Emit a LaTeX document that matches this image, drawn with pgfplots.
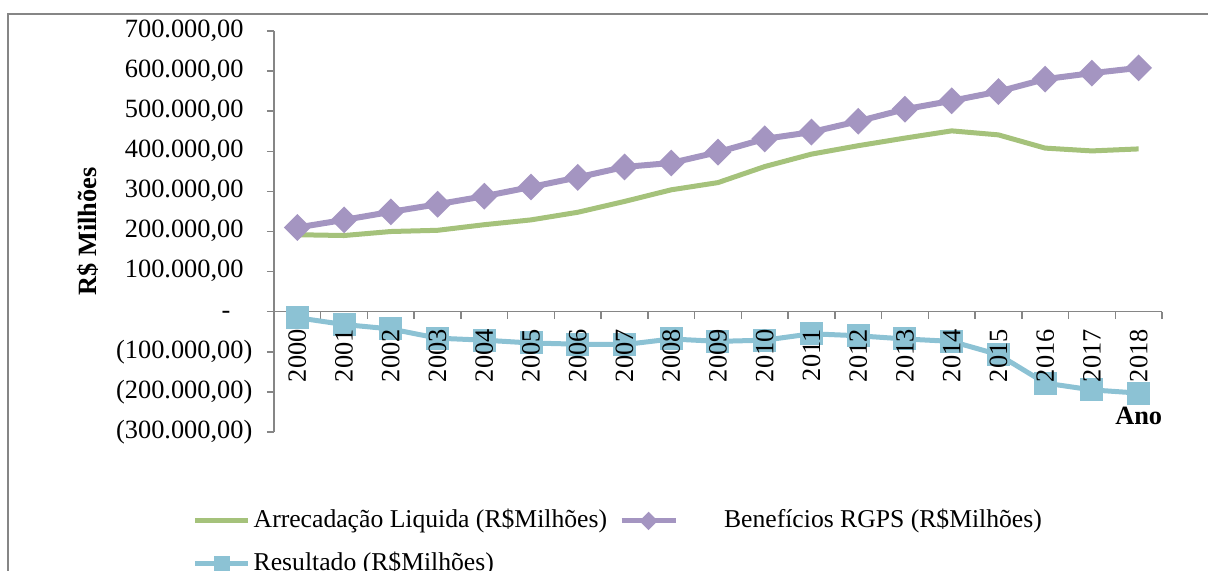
\documentclass[border=0pt]{standalone}
\usepackage{pgfplots}
\pgfplotsset{compat=1.18}
\usepackage{fontspec}
\setmainfont{Liberation Serif}
\definecolor{cg}{HTML}{A5C27B}
\definecolor{cp}{HTML}{A495C1}
\definecolor{cb}{HTML}{8CC2D4}
\definecolor{axgray}{HTML}{868686}
\newcommand{\fs}{\fontsize{7.5}{9}\selectfont}
\newcommand{\fl}{\fontsize{7.3}{9}\selectfont}
\pgfplotsset{
  legG/.style={legend image code/.code={\draw[##1] (0mm,0mm) -- (5.3mm,0mm);}},
  legP/.style={legend image code/.code={\draw[mark repeat=2, mark phase=2, ##1, mark size=0.4mm, line width=0.5mm] plot coordinates {(0mm,0mm) (2.7mm,0mm) (5.4mm,0mm)};}},
  legB/.style={legend image code/.code={\draw[mark repeat=2, mark phase=2, ##1, mark size=0.55mm] plot coordinates {(0mm,0mm) (2.65mm,0mm) (5.3mm,0mm)};}},
}
\begin{document}
\begin{tikzpicture}
\useasboundingbox (-27.4mm,-13.9mm) rectangle (93.4mm,43.2mm);
\clip (-27.4mm,-13.9mm) rectangle (93.4mm,43.2mm);
\draw[color=axgray, line width=0.2mm] (-26.6mm,-30mm) -- (-26.6mm,41.8mm) -- (110mm,41.8mm);
\begin{axis}[
  scale only axis, width=88.8mm, height=40.1mm,
  xmin=-0.5, xmax=18.5, ymin=-300000, ymax=700000,
  axis x line*=middle, axis y line*=left,
  hide obscured x ticks=false,
  scaled y ticks=false,
  axis line style={draw=axgray, line width=0.15mm},
  tick style={draw=axgray, line width=0.15mm},
  major tick length=0.7mm, tick align=outside,
  xtick={-0.5,0.5,...,18.5}, xticklabels={},
  ytick={-300000,-200000,-100000,0,100000,200000,300000,400000,500000,600000,700000},
  yticklabels={{(300.000,00)},{(200.000,00)},{(100.000,00)},{-\hspace{1.3mm}\phantom{)}},{100.000,00\phantom{)}},{200.000,00\phantom{)}},{300.000,00\phantom{)}},{400.000,00\phantom{)}},{500.000,00\phantom{)}},{600.000,00\phantom{)}},{700.000,00\phantom{)}}},
  tick label style={font=\fs},
  yticklabel style={anchor=east, inner sep=0pt, xshift=-1.4mm},
  xlabel={\textbf{Ano}}, ylabel={\textbf{R\$ Milhões}},
  every axis x label/.style={at={(axis description cs:1.001,0.04)}, anchor=east, inner sep=0pt, font=\fs},
  every axis y label/.style={at={(axis description cs:-0.2095,0.5)}, anchor=center, rotate=90, font=\fs},
  legend columns=2,
  legend cell align=left,
  legend style={draw=none, fill=none, inner sep=0pt, font=\fl,
    at={(axis description cs:-0.0923,-0.19)}, anchor=north west,
    nodes={inner sep=0pt, text height=1.85mm, text depth=0.55mm},
    row sep=1.9mm,
    /tikz/every odd column/.style={column sep=0.3mm},
    /tikz/every even column/.style={column sep=1.2mm}},
  clip=false,
  after end axis/.code={
    \foreach \i/\yr in {0/2000,1/2001,2/2002,3/2003,4/2004,5/2005,6/2006,7/2007,8/2008,9/2009,10/2010,11/2011,12/2012,13/2013,14/2014,15/2015,16/2016,17/2017,18/2018}
      \node[font=\fs, inner sep=0pt, yshift=-1.7mm, rotate=90, anchor=east] at (axis cs:\i,0) {\yr};
  },
]
\addplot[color=cg, line width=0.5mm, no markers, legG]
  coordinates {(0,192000)(1,190000)(2,200000)(3,203000)(4,217000)(5,229000)(6,248000)(7,275000)(8,304000)(9,322000)(10,362000)(11,393000)(12,414000)(13,433000)(14,451000)(15,441000)(16,408000)(17,401000)(18,406000)};
\addlegendentry{Arrecadação Liquida (R\$Milhões)}
\addplot[color=cp, line width=0.6mm, mark=square*, mark size=0.65mm, mark options={rotate=45, solid}, legP]
  coordinates {(0,210000)(1,229000)(2,249000)(3,268000)(4,288000)(5,311000)(6,335000)(7,361000)(8,371000)(9,398000)(10,431000)(11,448000)(12,475000)(13,505000)(14,526000)(15,549000)(16,580000)(17,595000)(18,608000)};
\addlegendentry{\hspace{4.3mm}Benefícios RGPS (R\$Milhões)}
\addplot[color=cb, line width=0.5mm, mark=square*, mark size=0.9mm, legB]
  coordinates {(0,-15000)(1,-32000)(2,-43000)(3,-66000)(4,-71000)(5,-78000)(6,-81000)(7,-82000)(8,-68000)(9,-74000)(10,-71000)(11,-55000)(12,-60000)(13,-68000)(14,-74000)(15,-107000)(16,-178000)(17,-195000)(18,-203000)};
\addlegendentry{Resultado (R\$Milhões)}
\end{axis}
\end{tikzpicture}
\end{document}
